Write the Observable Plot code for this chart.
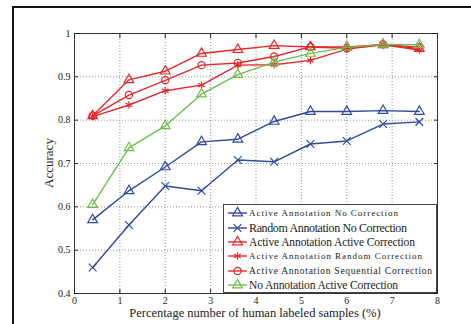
<!DOCTYPE html>
<html><head><meta charset="utf-8">
<script src="https://cdn.jsdelivr.net/npm/d3@7"></script>
<script src="https://cdn.jsdelivr.net/npm/@observablehq/plot@0.6"></script>
<style>
html,body{margin:0;padding:0;background:#fff;overflow:hidden;width:471px;height:324px}
#wrap{position:relative;width:471px;height:324px;overflow:hidden}
#border{position:absolute;left:12px;top:6px;width:600px;height:600px;border:2px solid #111;box-sizing:border-box}
#chart{position:absolute;left:0;top:0}
#legend{position:absolute;left:223px;top:204px}
.lab{position:absolute;font-family:"Liberation Serif",serif;color:#222;white-space:nowrap;line-height:1}
</style></head><body>
<div id="wrap"><div id="border"></div><div id="chart"></div><div id="legend"></div>
<div class="lab" id="xlab" style="left:255px;top:307px;font-size:12.5px;transform:translateX(-50%)">Percentage number of human labeled samples (%)</div>
<div class="lab" id="ylab" style="left:48px;top:163px;font-size:13px;transform:translate(-50%,-50%) rotate(-90deg)">Accuracy</div>
</div>
<script>
const xValues = [0.4, 1.2, 2, 2.8, 3.6, 4.4, 5.2, 6, 6.8, 7.6];
const seriesNames = [
  "Active Annotation No Correction",
  "Random Annotation No Correction",
  "Active Annotation Active Correction",
  "Active Annotation Random Correction",
  "Active Annotation Sequential Correction",
  "No Annotation Active Correction"
];
const activeNoCorr      = [0.570, 0.637, 0.692, 0.750, 0.756, 0.797, 0.820, 0.820, 0.822, 0.820];
const randomNoCorr      = [0.460, 0.558, 0.648, 0.637, 0.708, 0.704, 0.745, 0.752, 0.791, 0.796];
const activeActiveCorr  = [0.810, 0.893, 0.913, 0.954, 0.963, 0.972, 0.969, 0.969, 0.974, 0.965];
const activeRandomCorr  = [0.808, 0.835, 0.868, 0.881, 0.927, 0.928, 0.938, 0.964, 0.974, 0.962];
const activeSeqCorr     = [0.810, 0.858, 0.892, 0.927, 0.932, 0.947, 0.969, 0.966, 0.975, 0.968];
const noAnnActiveCorr   = [0.605, 0.736, 0.787, 0.860, 0.905, 0.934, 0.954, 0.968, 0.975, 0.974];
const seriesColors  = ["#2f4a9e", "#2f4a9e", "#e4282c", "#e4282c", "#e4282c", "#6cbf4a"];
const seriesSymbols = ["triangle", "times", "triangle", "asterisk", "circle", "triangle"];
const xTicks = [0, 1, 2, 3, 4, 5, 6, 7, 8];
const xTickLabels = ["0", "1", "2", "3", "4", "5", "6", "7", "8"];
const yTicks = [0.4, 0.5, 0.6, 0.7, 0.8, 0.9, 1];
const yTickLabels = ["0.4", "0.5", "0.6", "0.7", "0.8", "0.9", "1"];
const xLabel = "Percentage number of human labeled samples (%)";
const yLabel = "Accuracy";

const allValues = [activeNoCorr, randomNoCorr, activeActiveCorr, activeRandomCorr, activeSeqCorr, noAnnActiveCorr];
const series = seriesNames.map((name, k) => ({
  name, color: seriesColors[k], symbol: seriesSymbols[k],
  rows: allValues[k].map((v, i) => ({x: xValues[i], y: v, name}))
}));

const gridXv = xTicks.slice(1, -1);
const gridYv = yTicks.slice(1, -1);
const marks = [
  Plot.gridX(gridXv, {stroke: "#666", strokeOpacity: 0.7, strokeDasharray: "1,2"}),
  Plot.gridY(gridYv, {stroke: "#666", strokeOpacity: 0.7, strokeDasharray: "1,2"}),
];
for (const s of series) {
  marks.push(Plot.line(s.rows, {x: "x", y: "y", stroke: s.color, strokeWidth: 1.4}));
  marks.push(Plot.dot(s.rows, {x: "x", y: "y", symbol: () => s.symbol, r: 3.6, fill: "none", stroke: s.color, strokeWidth: 1.2}));
}
marks.push(
  Plot.frame({stroke: "#333", strokeWidth: 1}),
  Plot.axisX(xTicks, {anchor: "bottom", tickSize: 0, tickPadding: 3, tickFormat: (d) => xTickLabels[xTicks.indexOf(d)], label: null}),
  Plot.axisY(yTicks, {anchor: "left", tickSize: 0, tickPadding: 4, tickFormat: (d) => yTickLabels[yTicks.indexOf(d)], label: null}),
  Plot.axisX(xTicks, {anchor: "bottom", tickSize: -4, tickFormat: () => "", label: null}),
  Plot.axisX(xTicks, {anchor: "top", tickSize: -4, tickFormat: () => "", label: null}),
  Plot.axisY(yTicks, {anchor: "left", tickSize: -4, tickFormat: () => "", label: null}),
  Plot.axisY(yTicks, {anchor: "right", tickSize: -4, tickFormat: () => "", label: null})
);

const chart = Plot.plot({
  width: 471, height: 324,
  marginLeft: 74, marginRight: 34, marginTop: 33, marginBottom: 31,
  style: {fontFamily: "Liberation Serif", fontSize: "10px", background: "transparent", color: "#222", overflow: "visible"},
  x: {domain: [0, 8]},
  y: {domain: [0.4, 1]},
  marks
});
document.getElementById("chart").appendChild(chart);
document.getElementById("xlab").textContent = xLabel;
document.getElementById("ylab").textContent = yLabel;

// legend
const lw = 214, lh = 89;
const entryY = [9, 24, 38, 52, 67, 81];
const entrySize = [9, 12, 11.5, 9, 9.5, 11.5];
const entryLen = [149, 158, 166, 173, 183, 149];
const svg = d3.select("#legend").append("svg").attr("width", lw).attr("height", lh);
svg.append("rect").attr("x", 0.5).attr("y", 0.5).attr("width", lw - 1).attr("height", lh - 1)
  .attr("fill", "#fff").attr("stroke", "#444");
const symMap = {triangle: d3.symbolTriangle, times: d3.symbolTimes, asterisk: d3.symbolAsterisk, circle: d3.symbolCircle};
series.forEach((s, k) => {
  const g = svg.append("g").attr("transform", `translate(0,${entryY[k]})`);
  g.append("line").attr("x1", 5).attr("x2", 24).attr("y1", 0).attr("y2", 0).attr("stroke", s.color).attr("stroke-width", 1.4);
  g.append("path").attr("transform", "translate(14.5,0)").attr("d", d3.symbol(symMap[s.symbol], Math.PI * 13)())
    .attr("fill", "none").attr("stroke", s.color).attr("stroke-width", 1.2);
  g.append("text").attr("x", 26).attr("y", 0).attr("dy", "0.35em")
    .attr("font-family", "Liberation Serif").attr("font-size", entrySize[k]).attr("fill", "#222")
    .attr("textLength", entryLen[k]).attr("lengthAdjust", "spacing").text(s.name);
});
</script>
</body></html>
